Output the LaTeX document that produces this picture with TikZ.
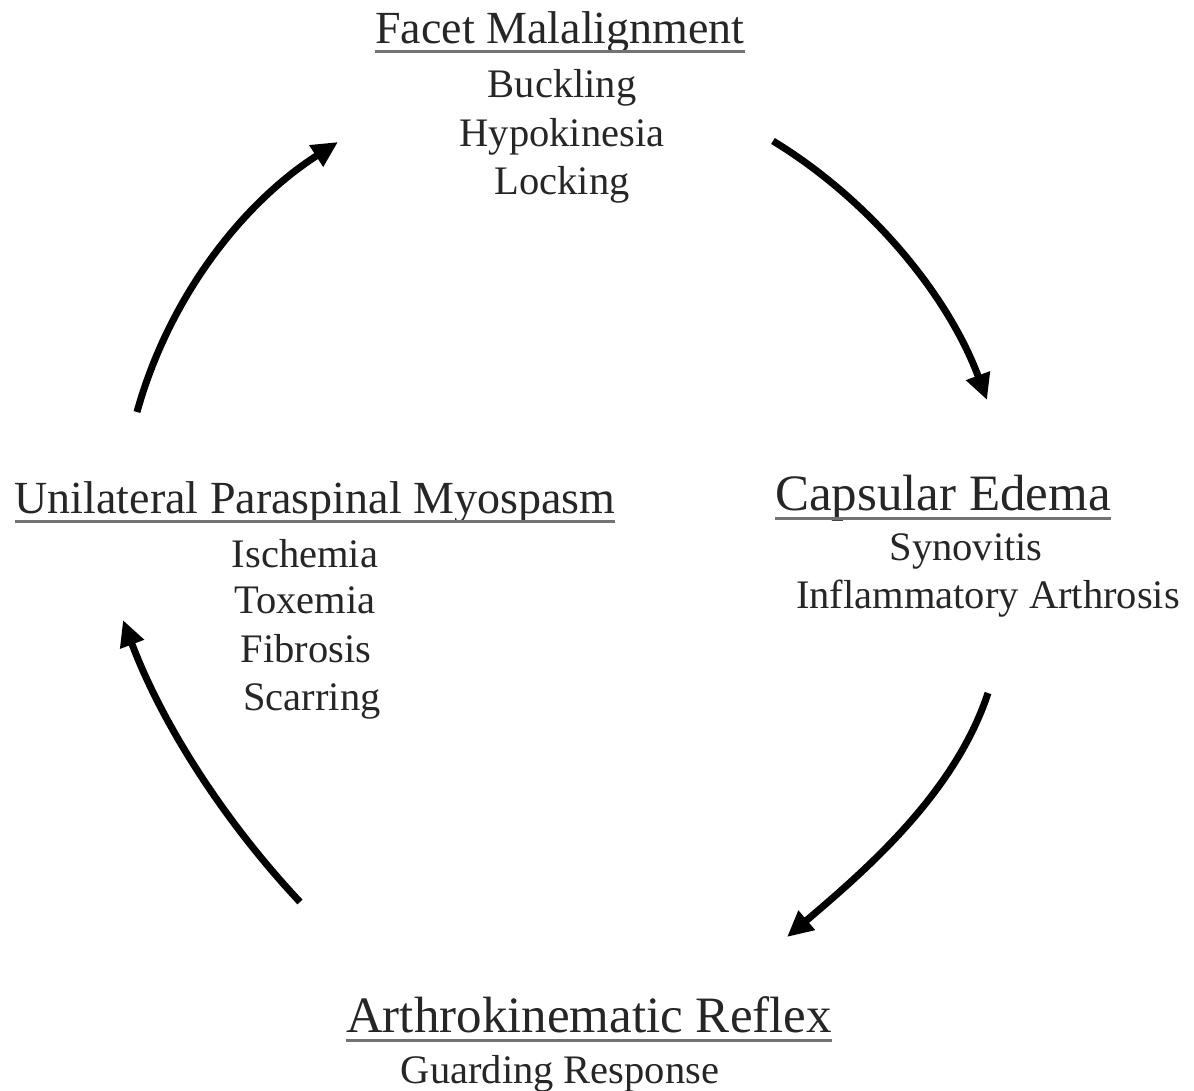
\documentclass[tikz,border=0pt]{standalone}
\usepackage{fontspec}
\setmainfont{Liberation Serif}
\usetikzlibrary{arrows.meta}
\begin{document}
\begin{tikzpicture}[x=1pt,y=-1pt,
  txt/.style={anchor=base,inner sep=0pt,outer sep=0pt,text=black!85},
  ttl/.style={txt,font=\fontsize{46}{50}\selectfont},
  ttlbig/.style={txt,font=\fontsize{51}{55}\selectfont},
  body/.style={txt,font=\fontsize{40.5}{45}\selectfont},
  uline/.style={line width=3pt,black!55},
  cyc/.style={line width=7pt,-{Triangle[length=26pt,width=24pt]}}]
\useasboundingbox (0,0) rectangle (1194,1090);

% top group
\node[ttl]  (t1)  at (560,43)  {Facet Malalignment};
\node[body] (t1a) at (562,97)  {Buckling};
\node[body] (t1b) at (562,146) {Hypokinesia};
\node[body] (t1c) at (562,194) {Locking};

% right group
\node[ttlbig] (t2)  at (943,510) {Capsular Edema};
\node[body]   (t2a) at (966,560) {Synovitis};
\node[body]   (t2b) at (988,608) {Inflammatory Arthrosis};

% bottom group
\node[ttlbig] (t3)  at (589,1032) {Arthrokinematic Reflex};
\node[body]   (t3a) at (560,1083) {Guarding Response};

% left group
\node[ttl]  (t4)  at (315,513) {Unilateral Paraspinal Myospasm};
\node[body] (t4a) at (305,567) {Ischemia};
\node[body] (t4b) at (305,613) {Toxemia};
\node[body] (t4c) at (306,662) {Fibrosis};
\node[body] (t4d) at (312,710) {Scarring};

% underlines
\foreach \n in {t1,t2,t3,t4}
  \draw[uline] ([yshift=-8pt]\n.base west) -- ([yshift=-8pt]\n.base east);

% arrow end points
\coordinate (a1s) at (137,412);
\coordinate (a1e) at (338,142);
\coordinate (a2s) at (773,141);
\coordinate (a2e) at (987,400);
\coordinate (a3s) at (988,693);
\coordinate (a3e) at (787,937);
\coordinate (a4s) at (300,902);
\coordinate (a4e) at (123,620);

\draw[cyc] (a1s) .. controls (168,300) and (240,205) .. (a1e);
\draw[cyc] (a2s) .. controls (870,200) and (948,295) .. (a2e);
\draw[cyc] (a3s) .. controls (955,793) and (867,869) .. (a3e);
\draw[cyc] (a4s) .. controls (224,821) and (162,724) .. (a4e);
\end{tikzpicture}
\end{document}
